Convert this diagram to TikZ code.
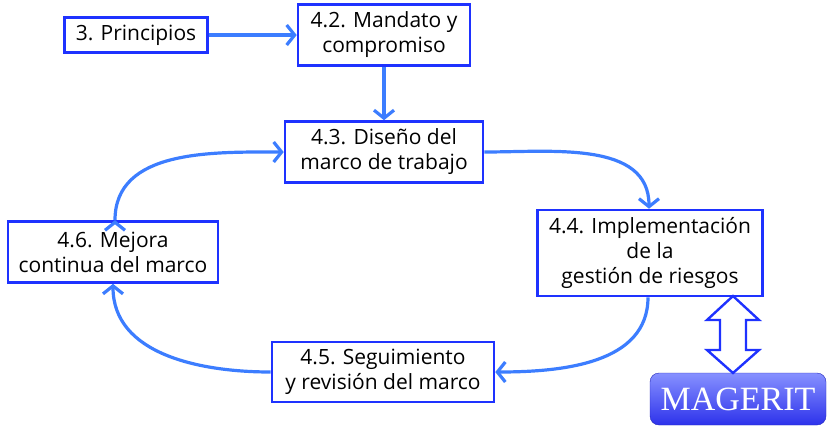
\documentclass[tikz,border=0pt]{standalone}
\usepackage{fontspec}
\setmainfont{Open Sans}
\newfontfamily\magfont{Liberation Serif}
\usepackage{xcolor}
\usetikzlibrary{arrows.meta,positioning,calc}

\definecolor{boxblue}{RGB}{30,50,255}
\definecolor{arrowblue}{RGB}{60,125,255}
\definecolor{magtop}{RGB}{135,145,255}
\definecolor{magbot}{RGB}{45,50,235}

\begin{document}
\begin{tikzpicture}[x=1pt,y=-1pt,->,>={Straight Barb[length=8pt,width=20pt]},auto,semithick,align=center,font=\fontsize{21}{25}\selectfont]

    \tikzstyle{box}=[draw=boxblue,line width=2.6pt,rectangle,fill=white,text=black,inner sep=0pt]
    \tikzstyle{flow}=[draw=arrowblue,line width=3.2pt]

    \useasboundingbox (0,0) rectangle (831,432);

    \node[box, minimum width=143, minimum height=35] (A) at (136,35)   {3. Principios};
    \node[box, minimum width=172, minimum height=61] (B) at (384,35)   {4.2. Mandato y\\compromiso};
    \node[box, minimum width=198, minimum height=61] (C) at (384,152)  {4.3. Diseño del\\marco de trabajo};
    \node[box, minimum width=225, minimum height=86] (D) at (650,253)  {4.4. Implementación\\de la\\gestión de riesgos};
    \node[box, minimum width=222, minimum height=60] (E) at (383,372)  {4.5. Seguimiento\\y revisión del marco};
    \node[box, minimum width=210, minimum height=61] (F) at (113,252)  {4.6. Mejora\\continua del marco};
    \node[rectangle, rounded corners=9pt, top color=magtop, bottom color=magbot, draw=magbot!80!black, thin,
          minimum width=176, minimum height=52, text=white, font=\magfont\fontsize{34}{34}\selectfont] (M) at (738,399) {MAGERIT};

    \path[flow] (A) edge (B)
                (B) edge (C)
                (C.east) edge [out=0, in=90]   ([xshift=-1pt]D.north)
                ([xshift=-2pt]D.south) edge [out=-90, in=0] (E.east)
                (E.west) edge [out=180, in=-90] (F.south)
                ([xshift=2pt]F.north) edge [out=90, in=180] (C.west);

    % double arrow between 4.4 and MAGERIT
    \coordinate (t) at (733,296);
    \coordinate (b) at (733,373);
    \draw[-, draw=boxblue, line width=2.4pt, fill=white, line join=miter]
        (t) -- ++(26,24) -- ++(-13,0) -- ++(0,30) -- ++(13,0) -- (b)
            -- ++(-26,-23) -- ++(13,0) -- ++(0,-30) -- ++(-13,0) -- cycle;
\end{tikzpicture}
\end{document}
